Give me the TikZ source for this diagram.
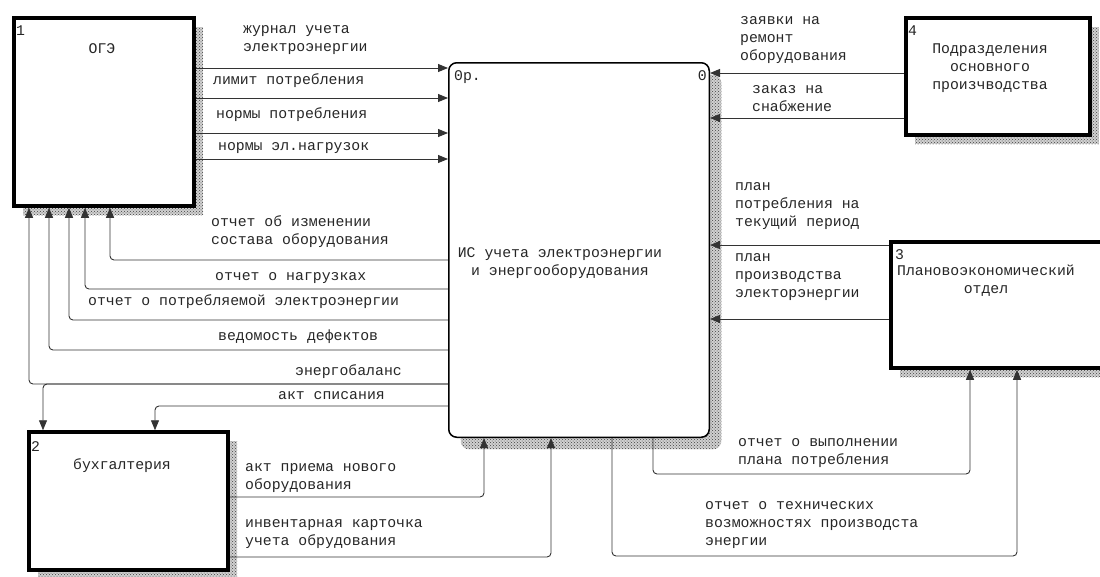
\documentclass[tikz,border=0pt]{standalone}
\usepackage{fontspec}
\setmainfont{Liberation Mono}
\usetikzlibrary{arrows.meta,patterns,shadows}

\tikzset{
  hatch/.style={general shadow={shadow xshift=#1, shadow yshift=-#1,
      fill=black!18, postaction={pattern=crosshatch dots, pattern color=black!75}}},
  entity/.style={draw, fill=white, line width=3.5pt, hatch=9pt},
  proc/.style={draw, fill=white, line width=1.5pt, rounded corners=8pt, hatch=12pt},
  flow/.style={draw=black!80, line width=0.9pt, rounded corners=4pt,
      -{Triangle[length=10pt,width=8pt]}},
  lbl/.style={anchor=base west, align=left},
  ttl/.style={anchor=base, align=center},
}

\begin{document}
\begin{tikzpicture}[x=1pt,y=-1pt,
  every node/.style={font=\fontsize{14.8}{18}\selectfont, text=black!85, inner sep=0pt}]
	\useasboundingbox (0,0) rectangle (1100,576);
	\clip (0,0) rectangle (1100,576);

	% blocks
	\node [entity, minimum width=180, minimum height=188] (oge) at (104,112) {};
	\node [entity, minimum width=199, minimum height=138] (buh) at (128.5,501) {};
	\node [entity, minimum width=215, minimum height=126] (plan) at (998.5,305) {};
	\node [entity, minimum width=184, minimum height=117] (pod) at (998,76.5) {};
	\node [proc, minimum width=260.5, minimum height=374.5] (is) at (579,250) {};

	% block texts (base = last line)
	\node [lbl] (oge-n) at (16,35) {1};
	\node [ttl] (oge-t) at (102,53) {ОГЭ};
	\node [lbl] (buh-n) at (31,451) {2};
	\node [ttl] (buh-t) at (122,469) {бухгалтерия};
	\node [lbl] (plan-n) at (895,259) {3};
	\node [ttl] (plan-t) at (986,293) {Плановоэкономический\\отдел};
	\node [lbl] (pod-n) at (908,35) {4};
	\node [ttl] (pod-t) at (990,89) {Подразделения\\основного\\произчводства};
	\node [lbl] (is-n) at (454,80) {0р.};
	\node [anchor=base east] (is-c) at (707,80) {0};
	\node [ttl] (is-t) at (560,275) {ИС учета электроэнергии\\и энергооборудования};

	% OGE -> IS
	\draw [flow] (oge.east |- 0,68) -- (is.west |- 0,68);
	\draw [flow] (oge.east |- 0,98) -- (is.west |- 0,98);
	\draw [flow] (oge.east |- 0,133) -- (is.west |- 0,133);
	\draw [flow] (oge.east |- 0,159) -- (is.west |- 0,159);

	% IS -> OGE
	\draw [flow] (is.west |- 0,260) -| (oge.south -| 110,0);
	\draw [flow] (is.west |- 0,289) -| (oge.south -| 85,0);
	\draw [flow] (is.west |- 0,320) -| (oge.south -| 69,0);
	\draw [flow] (is.west |- 0,350) -| (oge.south -| 49,0);
	\draw [flow] (is.west |- 0,384) -| (oge.south -| 29,0);

	% IS -> buh
	\draw [flow] (is.west |- 0,384) -| (buh.north -| 43,0);
	\draw [flow] (is.west |- 0,406) -| (buh.north -| 155,0);

	% buh -> IS
	\draw [flow] (buh.east |- 0,497) -| (is.south -| 484,0);
	\draw [flow] (buh.east |- 0,557) -| (is.south -| 551,0);

	% IS -> plan
	\draw [flow] (is.south -| 653,0) |- (800,474) -| (plan.south -| 970,0);
	\draw [flow] (is.south -| 612,0) |- (800,556) -| (plan.south -| 1017,0);

	% pod, plan -> IS
	\draw [flow] (pod.west |- 0,73) -- (is.east |- 0,73);
	\draw [flow] (pod.west |- 0,118) -- (is.east |- 0,118);
	\draw [flow] (plan.west |- 0,245) -- (is.east |- 0,245);
	\draw [flow] (plan.west |- 0,319) -- (is.east |- 0,319);

	% flow labels (base = last line)
	\node [lbl] (f1) at (243,51) {журнал учета\\электроэнергии};
	\node [lbl] (f2) at (213,84) {лимит потребления};
	\node [lbl] (f3) at (216,118) {нормы потребления};
	\node [lbl] (f4) at (218,150) {нормы эл.нагрузок};
	\node [lbl] (f5) at (211,244) {отчет об изменении\\состава оборудования};
	\node [lbl] (f6) at (215,280) {отчет о нагрузках};
	\node [lbl] (f7) at (88,305) {отчет о потребляемой электроэнергии};
	\node [lbl] (f8) at (218,340) {ведомость дефектов};
	\node [lbl] (f9) at (295,375) {энергобаланс};
	\node [lbl] (f10) at (278,399) {акт списания};
	\node [lbl] (f11) at (245,489) {акт приема нового\\оборудования};
	\node [lbl] (f12) at (245,545) {инвентарная карточка\\учета обрудования};
	\node [lbl] (f13) at (740,60) {заявки на\\ремонт\\оборудования};
	\node [lbl] (f14) at (752,111) {заказ на\\снабжение};
	\node [lbl] (f15) at (735,226) {план\\потребления на\\текущий период};
	\node [lbl] (f16) at (735,297) {план\\производства\\электорэнергии};
	\node [lbl] (f17) at (738,464) {отчет о выполнении\\плана потребления};
	\node [lbl] (f18) at (705,545) {отчет о технических\\возможностях производста\\энергии};

\end{tikzpicture}
\end{document}
